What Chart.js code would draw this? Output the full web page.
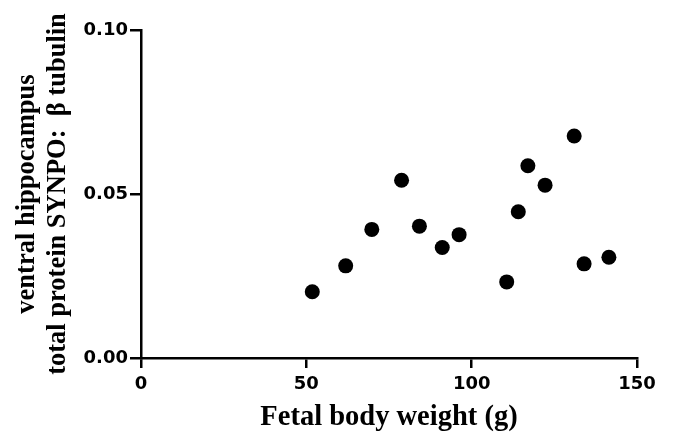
<!DOCTYPE html>
<html>
<head>
<meta charset="utf-8">
<script src="https://cdn.jsdelivr.net/npm/chart.js@4/dist/chart.umd.min.js"></script>
<style>
  html, body { margin: 0; padding: 0; background: #fff; }
  #wrap { width: 675px; height: 444px; }
</style>
</head>
<body>
<div id="wrap"><canvas id="c" width="675" height="444"></canvas></div>
<script>
// Fetal body weight (g) for each sample
const bodyWeight = [51.8, 61.9, 69.8, 78.8, 84.2, 91.1, 96.2, 110.6, 114.1, 117.0, 122.2, 131.0, 134.0, 141.5];
// SYNPO : beta tubulin ratio in ventral hippocampus total protein
const synpoRatio = [0.0202, 0.0281, 0.0392, 0.0542, 0.0402, 0.0337, 0.0376, 0.0232, 0.0446, 0.0586, 0.0527, 0.0677, 0.0287, 0.0307];

const xTicks = [0, 50, 100, 150];
const yTicks = [0.00, 0.05, 0.10];

const yTitleLines = ['ventral hippocampus', 'total protein SYNPO:  \u03B2 tubulin'];
const xTitle = 'Fetal body weight (g)';

const points = bodyWeight.map((w, i) => ({ x: w, y: synpoRatio[i] }));

const tickFont = { family: "'DejaVu Sans'", size: 18, weight: 'bold' };

// Axis titles drawn in serif, outside the plot area
const axisTitles = {
  id: 'axisTitles',
  afterDraw(chart) {
    const { ctx, chartArea } = chart;
    ctx.save();
    ctx.fillStyle = '#000';
    ctx.textAlign = 'center';
    ctx.textBaseline = 'middle';
    ctx.font = "bold 28.5px 'Liberation Serif'";
    ctx.fillText(xTitle, (chartArea.left + chartArea.right) / 2, 418);
    ctx.font = "bold 26.5px 'Liberation Serif'";
    const cy = (chartArea.top + chartArea.bottom) / 2;
    const xs = [27, 58];
    yTitleLines.forEach((line, i) => {
      ctx.save();
      ctx.translate(xs[i], cy);
      ctx.rotate(-Math.PI / 2);
      ctx.fillText(line, 0, 0);
      ctx.restore();
    });
    ctx.restore();
  }
};

new Chart(document.getElementById('c'), {
  type: 'scatter',
  data: {
    datasets: [{
      data: points,
      backgroundColor: '#000',
      borderColor: '#000',
      borderWidth: 0,
      pointRadius: 7.5,
      pointHoverRadius: 7.5
    }]
  },
  options: {
    responsive: false,
    animation: false,
    devicePixelRatio: 1,
    layout: { padding: { top: 30, right: 38, left: 0, bottom: 0 } },
    plugins: { legend: { display: false }, tooltip: { enabled: false } },
    scales: {
      x: {
        type: 'linear',
        min: xTicks[0],
        max: xTicks[xTicks.length - 1],
        afterBuildTicks(scale) { scale.ticks = xTicks.map(v => ({ value: v })); },
        afterFit(scale) { scale.height = 86; },
        ticks: { color: '#000', font: tickFont, padding: 6, maxRotation: 0, callback: v => String(v) },
        grid: { drawOnChartArea: false, drawTicks: true, tickLength: 10, color: '#000', lineWidth: 2.5 },
        border: { display: true, color: '#000', width: 2.5 }
      },
      y: {
        type: 'linear',
        min: yTicks[0],
        max: yTicks[yTicks.length - 1],
        afterBuildTicks(scale) { scale.ticks = yTicks.map(v => ({ value: v })); },
        afterFit(scale) { scale.width = 141; },
        ticks: { color: '#000', font: tickFont, padding: 2, callback: v => Number(v).toFixed(2) },
        grid: { drawOnChartArea: false, drawTicks: true, tickLength: 11, color: '#000', lineWidth: 2.5 },
        border: { display: true, color: '#000', width: 2.5 }
      }
    }
  },
  plugins: [axisTitles]
});
</script>
</body>
</html>
